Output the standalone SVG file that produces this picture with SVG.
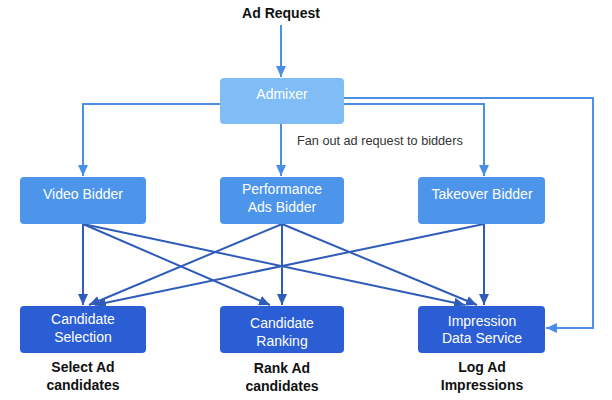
<svg xmlns="http://www.w3.org/2000/svg" width="612" height="400" viewBox="0 0 612 400">
<style>
.t{font-family:"Liberation Sans",Arial,sans-serif;}
.node{fill:#fff;font-size:14px;text-anchor:middle;}
.lbl{fill:#111;font-size:14px;font-weight:bold;text-anchor:middle;}
.up{fill:none;stroke:#4a8fe6;stroke-width:2;}
.dn{fill:none;stroke:#2f5cb8;stroke-width:2;}
</style>
<defs>
<marker id="ah1" markerUnits="userSpaceOnUse" markerWidth="12" markerHeight="10" refX="11" refY="5" orient="auto"><path d="M0,0 L11,5 L0,10 z" fill="#4a8fe6"/></marker>
<marker id="ah2" markerUnits="userSpaceOnUse" markerWidth="12" markerHeight="10" refX="11" refY="5" orient="auto"><path d="M0,0 L11,5 L0,10 z" fill="#2f5cb8"/></marker>
</defs>
<rect width="612" height="400" fill="#fff"/>
<g id="connectors">
<path class="up" d="M281,25 L281,77" marker-end="url(#ah1)"/>
<path class="up" d="M220,104 L83,104 L83,176" marker-end="url(#ah1)"/>
<path class="up" d="M281,124 L281,176" marker-end="url(#ah1)"/>
<path class="up" d="M344,104 L484,104 L484,176" marker-end="url(#ah1)"/>
<path class="up" d="M344,98 L593,98 L593,328 L546,328" marker-end="url(#ah1)"/>
<path class="dn" d="M83,224 L83,305" marker-end="url(#ah2)"/>
<path class="dn" d="M83,224 L270,305" marker-end="url(#ah2)"/>
<path class="dn" d="M83,224 L465,305" marker-end="url(#ah2)"/>
<path class="dn" d="M282,224 L89,305" marker-end="url(#ah2)"/>
<path class="dn" d="M282,224 L282,305" marker-end="url(#ah2)"/>
<path class="dn" d="M282,224 L477,305" marker-end="url(#ah2)"/>
<path class="dn" d="M484,224 L95,305" marker-end="url(#ah2)"/>
<path class="dn" d="M484,224 L484,305" marker-end="url(#ah2)"/>
</g>
<g id="ad-request"><text class="t" x="281" y="18" fill="#111" font-size="14" font-weight="bold" text-anchor="middle">Ad Request</text></g>
<g id="admixer"><rect x="220" y="78" width="124" height="46" rx="4" fill="#80bdf6"/><text class="t node" x="282" y="99">Admixer</text></g>
<g id="fanout"><text class="t" x="297" y="145" fill="#333" font-size="12.7">Fan out ad request to bidders</text></g>
<g id="video-bidder"><rect x="20" y="177" width="126" height="47" rx="4" fill="#4d95ea"/><text class="t node" x="83" y="199">Video Bidder</text></g>
<g id="performance-bidder"><rect x="220" y="177" width="124" height="47" rx="4" fill="#4d95ea"/><text class="t node" x="282" y="194">Performance</text><text class="t node" x="282" y="212">Ads Bidder</text></g>
<g id="takeover-bidder"><rect x="418" y="177" width="127" height="47" rx="4" fill="#4d95ea"/><text class="t node" x="482" y="199">Takeover Bidder</text></g>
<g id="candidate-selection"><rect x="20" y="306" width="126" height="47" rx="4" fill="#2b5ed5"/><text class="t node" x="83" y="324">Candidate</text><text class="t node" x="83" y="342">Selection</text></g>
<g id="candidate-ranking"><rect x="220" y="306" width="124" height="47" rx="4" fill="#2b5ed5"/><text class="t node" x="282" y="328">Candidate</text><text class="t node" x="282" y="346">Ranking</text></g>
<g id="impression-data-service"><rect x="418" y="306" width="127" height="47" rx="4" fill="#2b5ed5"/><text class="t node" x="482" y="326">Impression</text><text class="t node" x="482" y="343">Data Service</text></g>
<g id="label-select"><text class="t lbl" x="83" y="372">Select Ad</text><text class="t lbl" x="83" y="390">candidates</text></g>
<g id="label-rank"><text class="t lbl" x="282" y="373">Rank Ad</text><text class="t lbl" x="282" y="391">candidates</text></g>
<g id="label-log"><text class="t lbl" x="482" y="372">Log Ad</text><text class="t lbl" x="482" y="390">Impressions</text></g>
</svg>
